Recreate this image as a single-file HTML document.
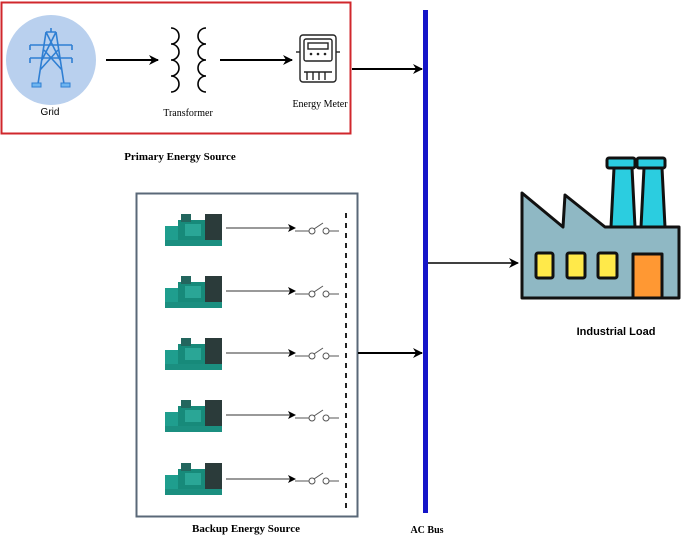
<!DOCTYPE html>
<html><head><meta charset="utf-8"><style>
html,body{margin:0;padding:0;background:#fff;}
svg{display:block;}
.serif{font-family:"Liberation Serif",serif;}
.sans{font-family:"Liberation Sans",sans-serif;}
</style></head><body>
<svg width="685" height="536" viewBox="0 0 685 536" xmlns="http://www.w3.org/2000/svg">
<defs>
<marker id="ah" markerWidth="10" markerHeight="10" refX="9" refY="5" orient="auto" markerUnits="userSpaceOnUse">
<path d="M0,0 L10,5 L0,10 L3,5 Z" fill="#000"/></marker>
<marker id="ahs" markerWidth="8" markerHeight="8" refX="7" refY="4" orient="auto" markerUnits="userSpaceOnUse">
<path d="M0,0 L8,4 L0,8 L2,4 Z" fill="#000"/></marker>
<g id="gen">
<rect x="0" y="14" width="15" height="16" fill="#1f9e8e"/>
<rect x="13" y="8" width="30" height="20" fill="#178a7a"/>
<rect x="16" y="2" width="10" height="8" fill="#23665e"/>
<rect x="40" y="2" width="17" height="26" fill="#2b3b3a"/>
<rect x="0" y="28" width="57" height="6" fill="#1b8f80"/>
<rect x="20" y="12" width="16" height="12" fill="#2aa696"/>
</g>
<g id="sw" fill="none" stroke="#555" stroke-width="1">
<line x1="0" y1="0" x2="14" y2="0"/>
<circle cx="17" cy="0" r="3" fill="#fff"/>
<line x1="19" y1="-2" x2="28" y2="-8"/>
<circle cx="31" cy="0" r="3" fill="#fff"/>
<line x1="34" y1="0" x2="44" y2="0"/>
</g>
</defs>

<rect x="1.5" y="2.5" width="349" height="131" fill="none" stroke="#d0272c" stroke-width="2"/>
<circle cx="51" cy="60" r="45" fill="#b9d0ee"/>
<g stroke="#2f7fd3" stroke-width="1.6" fill="none">
<path d="M46,32 L56,32 M51,28 L51,32 M46,32 L38,84 M56,32 L64,84 M46,32 L60,60 M56,32 L42,60 M44,50 L62,70 M58,50 L40,70"/>
<path d="M30,45 L72,45 M30,58 L72,58 M30,45 L30,50 M72,45 L72,50 M30,58 L30,63 M72,58 L72,63"/>
</g>
<rect x="32" y="83" width="9" height="4" fill="#6fb6f0" stroke="#2f7fd3"/>
<rect x="61" y="83" width="9" height="4" fill="#6fb6f0" stroke="#2f7fd3"/>
<text x="50" y="115" class="sans" font-size="10" text-anchor="middle">Grid</text>

<line x1="106" y1="60" x2="158" y2="60" stroke="#000" stroke-width="2" marker-end="url(#ah)"/>
<g fill="none" stroke="#000" stroke-width="1.6">
<path d="M171,28 a8,8 0 0 1 0,16 a8,8 0 0 1 0,16 a8,8 0 0 1 0,16 a8,8 0 0 1 0,16"/>
<path d="M206,28 a8,8 0 0 0 0,16 a8,8 0 0 0 0,16 a8,8 0 0 0 0,16 a8,8 0 0 0 0,16"/>
</g>
<text x="188" y="116" class="serif" font-size="10" text-anchor="middle">Transformer</text>

<line x1="220" y1="60" x2="292" y2="60" stroke="#000" stroke-width="2" marker-end="url(#ah)"/>
<g fill="none" stroke="#222" stroke-width="1.4">
<rect x="300" y="35" width="36" height="47" rx="3"/>
<rect x="304" y="39" width="28" height="22" rx="2"/>
<rect x="308" y="43" width="20" height="6"/>
<line x1="296" y1="52" x2="300" y2="52"/><line x1="336" y1="52" x2="340" y2="52"/>
<path d="M304,72 L332,72 M307,72 L307,80 M313,72 L313,80 M319,72 L319,80 M325,72 L325,80"/>
</g>
<circle cx="311" cy="54" r="1.3" fill="#222"/><circle cx="318" cy="54" r="1.3" fill="#222"/><circle cx="325" cy="54" r="1.3" fill="#222"/>
<text x="320" y="107" class="serif" font-size="10" text-anchor="middle">Energy Meter</text>
<text x="180" y="160" class="serif" font-size="11" font-weight="bold" text-anchor="middle">Primary Energy Source</text>

<line x1="352" y1="69" x2="422" y2="69" stroke="#000" stroke-width="2" marker-end="url(#ah)"/>

<rect x="423" y="10" width="5" height="503" fill="#1414c8"/>
<text x="427" y="533" class="serif" font-size="10" font-weight="bold" text-anchor="middle">AC Bus</text>

<rect x="136.5" y="193.5" width="221" height="323" fill="none" stroke="#5a6878" stroke-width="2"/>
<use href="#gen" x="165" y="212"/>
<use href="#gen" x="165" y="274"/>
<use href="#gen" x="165" y="336"/>
<use href="#gen" x="165" y="398"/>
<use href="#gen" x="165" y="461"/>
<g stroke="#333" stroke-width="1">
<line x1="226" y1="228" x2="295" y2="228" marker-end="url(#ahs)"/>
<line x1="226" y1="291" x2="295" y2="291" marker-end="url(#ahs)"/>
<line x1="226" y1="353" x2="295" y2="353" marker-end="url(#ahs)"/>
<line x1="226" y1="415" x2="295" y2="415" marker-end="url(#ahs)"/>
<line x1="226" y1="479" x2="295" y2="479" marker-end="url(#ahs)"/>
</g>
<use href="#sw" x="295" y="231"/>
<use href="#sw" x="295" y="294"/>
<use href="#sw" x="295" y="356"/>
<use href="#sw" x="295" y="418"/>
<use href="#sw" x="295" y="481"/>
<line x1="346" y1="213" x2="346" y2="508" stroke="#222" stroke-width="2" stroke-dasharray="5,5"/>
<text x="246" y="532" class="serif" font-size="11" font-weight="bold" text-anchor="middle">Backup Energy Source</text>

<line x1="358" y1="353" x2="422" y2="353" stroke="#000" stroke-width="2" marker-end="url(#ah)"/>
<line x1="428" y1="263" x2="518" y2="263" stroke="#000" stroke-width="1.5" marker-end="url(#ah)"/>

<g stroke="#111" stroke-width="3" stroke-linejoin="round">
<path d="M611,227 L614,168 L632,168 L635,227 Z" fill="#2bcde0"/>
<rect x="607" y="158" width="28" height="10" rx="2" fill="#2bcde0"/>
<path d="M641,227 L644,168 L662,168 L665,227 Z" fill="#2bcde0"/>
<rect x="637" y="158" width="28" height="10" rx="2" fill="#2bcde0"/>
<path d="M522,193 L563,227 L565,195 L605,227 L679,227 L679,298 L522,298 Z" fill="#8fb8c4"/>
<rect x="536" y="253" width="17" height="25" rx="2" fill="#ffe94a"/>
<rect x="567" y="253" width="18" height="25" rx="2" fill="#ffe94a"/>
<rect x="598" y="253" width="19" height="25" rx="2" fill="#ffe94a"/>
<rect x="633" y="254" width="29" height="44" fill="#ff9833"/>
</g>
<text x="616" y="335" class="sans" font-size="11" font-weight="bold" text-anchor="middle">Industrial Load</text>
</svg>
</body></html>
